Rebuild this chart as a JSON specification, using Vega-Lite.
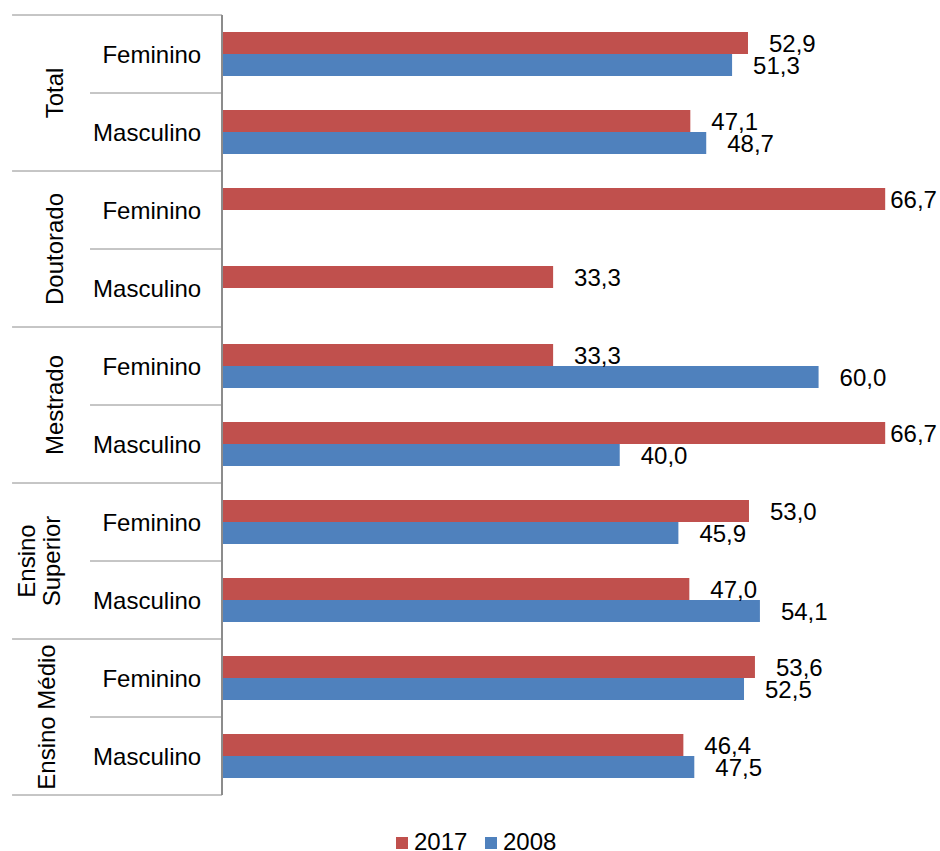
{
  "$schema": "https://vega.github.io/schema/vega-lite/v6.json",
  "width": 918,
  "height": 780,
  "autosize": {"type": "none"},
  "padding": {"left": 0, "top": 15, "right": 22, "bottom": 56},
  "background": "white",
  "config": {
    "view": {"stroke": null},
    "font": "Liberation Sans",
    "locale": {"number": {"decimal": ",", "thousands": ".", "grouping": [3], "currency": ["", ""]}},
    "text": {"font": "Liberation Sans", "fontSize": 24, "color": "#000"},
    "rule": {"color": "#8c8c8c", "strokeWidth": 1}
  },
  "data": {
    "values": [
      {"grupo": "Total", "sexo": "Feminino", "ano": "2017", "valor": 52.9},
      {"grupo": "Total", "sexo": "Feminino", "ano": "2008", "valor": 51.3},
      {"grupo": "Total", "sexo": "Masculino", "ano": "2017", "valor": 47.1},
      {"grupo": "Total", "sexo": "Masculino", "ano": "2008", "valor": 48.7},
      {"grupo": "Doutorado", "sexo": "Feminino", "ano": "2017", "valor": 66.7},
      {"grupo": "Doutorado", "sexo": "Masculino", "ano": "2017", "valor": 33.3},
      {"grupo": "Mestrado", "sexo": "Feminino", "ano": "2017", "valor": 33.3},
      {"grupo": "Mestrado", "sexo": "Feminino", "ano": "2008", "valor": 60.0},
      {"grupo": "Mestrado", "sexo": "Masculino", "ano": "2017", "valor": 66.7},
      {"grupo": "Mestrado", "sexo": "Masculino", "ano": "2008", "valor": 40.0},
      {"grupo": "Ensino Superior", "sexo": "Feminino", "ano": "2017", "valor": 53.0},
      {"grupo": "Ensino Superior", "sexo": "Feminino", "ano": "2008", "valor": 45.9},
      {"grupo": "Ensino Superior", "sexo": "Masculino", "ano": "2017", "valor": 47.0},
      {"grupo": "Ensino Superior", "sexo": "Masculino", "ano": "2008", "valor": 54.1},
      {"grupo": "Ensino Médio", "sexo": "Feminino", "ano": "2017", "valor": 53.6},
      {"grupo": "Ensino Médio", "sexo": "Feminino", "ano": "2008", "valor": 52.5},
      {"grupo": "Ensino Médio", "sexo": "Masculino", "ano": "2017", "valor": 46.4},
      {"grupo": "Ensino Médio", "sexo": "Masculino", "ano": "2008", "valor": 47.5}
    ]
  },
  "transform": [{"calculate": "datum.grupo + ' | ' + datum.sexo", "as": "cat"}],
  "layer": [
    {
      "mark": {"type": "bar"},
      "encoding": {
        "y": {"field": "cat", "type": "nominal", "axis": null,
              "scale": {"domain": ["Total | Feminino", "Total | Masculino", "Doutorado | Feminino", "Doutorado | Masculino", "Mestrado | Feminino", "Mestrado | Masculino", "Ensino Superior | Feminino", "Ensino Superior | Masculino", "Ensino Médio | Feminino", "Ensino Médio | Masculino"], "paddingInner": 0, "paddingOuter": 0}},
        "yOffset": {"field": "ano", "type": "nominal", "sort": ["2017", "2008"], "scale": {"paddingInner": 0, "paddingOuter": 0.7727}},
        "x": {"field": "valor", "type": "quantitative", "axis": null, "scale": {"domain": [-22.334, 70], "nice": false, "zero": false}},
        "x2": {"datum": 0},
        "color": {"field": "ano", "type": "nominal",
                  "scale": {"domain": ["2017", "2008"], "range": ["#C0504D", "#4F81BD"]},
                  "legend": {"orient": "none", "legendX": 390, "legendY": 816, "direction": "horizontal", "title": null,
                             "symbolType": "square", "symbolSize": 144, "symbolStrokeWidth": 0,
                             "labelFontSize": 24, "labelFont": "Liberation Sans", "labelColor": "#000",
                             "columnPadding": 11, "labelOffset": 0, "padding": 0}}
      }
    },
    {
      "transform": [{"filter": "datum.valor < 65"}],
      "mark": {"type": "text", "align": "left", "baseline": "middle", "dx": 21, "dy": 2},
      "encoding": {
        "y": {"field": "cat", "type": "nominal"},
        "yOffset": {"field": "ano", "type": "nominal", "sort": ["2017", "2008"]},
        "x": {"field": "valor", "type": "quantitative"},
        "text": {"field": "valor", "type": "quantitative", "format": ".1f"}
      }
    },
    {
      "transform": [{"filter": "datum.valor >= 65"}],
      "mark": {"type": "text", "align": "left", "baseline": "middle", "dx": 5, "dy": 2},
      "encoding": {
        "y": {"field": "cat", "type": "nominal"},
        "yOffset": {"field": "ano", "type": "nominal", "sort": ["2017", "2008"]},
        "x": {"field": "valor", "type": "quantitative"},
        "text": {"field": "valor", "type": "quantitative", "format": ".1f"}
      }
    },
    {
      "transform": [{"filter": "datum.ano == '2017'"}],
      "mark": {"type": "text", "align": "right", "baseline": "middle", "dy": 2},
      "encoding": {
        "y": {"field": "cat", "type": "nominal"},
        "x": {"datum": -2.1},
        "text": {"field": "sexo", "type": "nominal"}
      }
    },
    {
      "transform": [{"filter": "datum.ano == '2017' && datum.sexo == 'Feminino' && indexof(['Total', 'Doutorado', 'Mestrado'], datum.grupo) >= 0"}],
      "mark": {"type": "text", "align": "center", "baseline": "alphabetic", "angle": 270},
      "encoding": {
        "y": {"field": "cat", "type": "nominal", "bandPosition": 1},
        "x": {"datum": -16.0},
        "text": {"field": "grupo", "type": "nominal"}
      }
    },
    {
      "transform": [{"filter": "datum.ano == '2017' && datum.sexo == 'Feminino' && datum.grupo == 'Ensino Superior'"}],
      "mark": {"type": "text", "align": "center", "baseline": "alphabetic", "angle": 270, "lineBreak": " ", "lineHeight": 25},
      "encoding": {
        "y": {"field": "cat", "type": "nominal", "bandPosition": 1},
        "x": {"datum": -18.81},
        "text": {"field": "grupo", "type": "nominal"}
      }
    },
    {
      "transform": [{"filter": "datum.ano == '2017' && datum.sexo == 'Feminino' && datum.grupo == 'Ensino Médio'"}],
      "mark": {"type": "text", "align": "center", "baseline": "alphabetic", "angle": 270},
      "encoding": {
        "y": {"field": "cat", "type": "nominal", "bandPosition": 1},
        "x": {"datum": -16.8},
        "text": {"field": "grupo", "type": "nominal"}
      }
    },
    {
      "transform": [{"filter": "datum.ano == '2017' && datum.sexo == 'Feminino'"}],
      "mark": {"type": "rule"},
      "encoding": {
        "y": {"field": "cat", "type": "nominal", "bandPosition": 0},
        "x": {"datum": -21.12},
        "x2": {"datum": 0}
      }
    },
    {
      "transform": [{"filter": "datum.ano == '2017' && datum.cat == 'Ensino Médio | Masculino'"}],
      "mark": {"type": "rule"},
      "encoding": {
        "y": {"field": "cat", "type": "nominal", "bandPosition": 1},
        "x": {"datum": -21.12},
        "x2": {"datum": 0}
      }
    },
    {
      "transform": [{"filter": "datum.ano == '2017' && datum.sexo == 'Masculino'"}],
      "mark": {"type": "rule"},
      "encoding": {
        "y": {"field": "cat", "type": "nominal", "bandPosition": 0},
        "x": {"datum": -13.28},
        "x2": {"datum": 0}
      }
    },
    {
      "mark": {"type": "rule"},
      "encoding": {
        "x": {"datum": 0}
      }
    }
  ]
}
